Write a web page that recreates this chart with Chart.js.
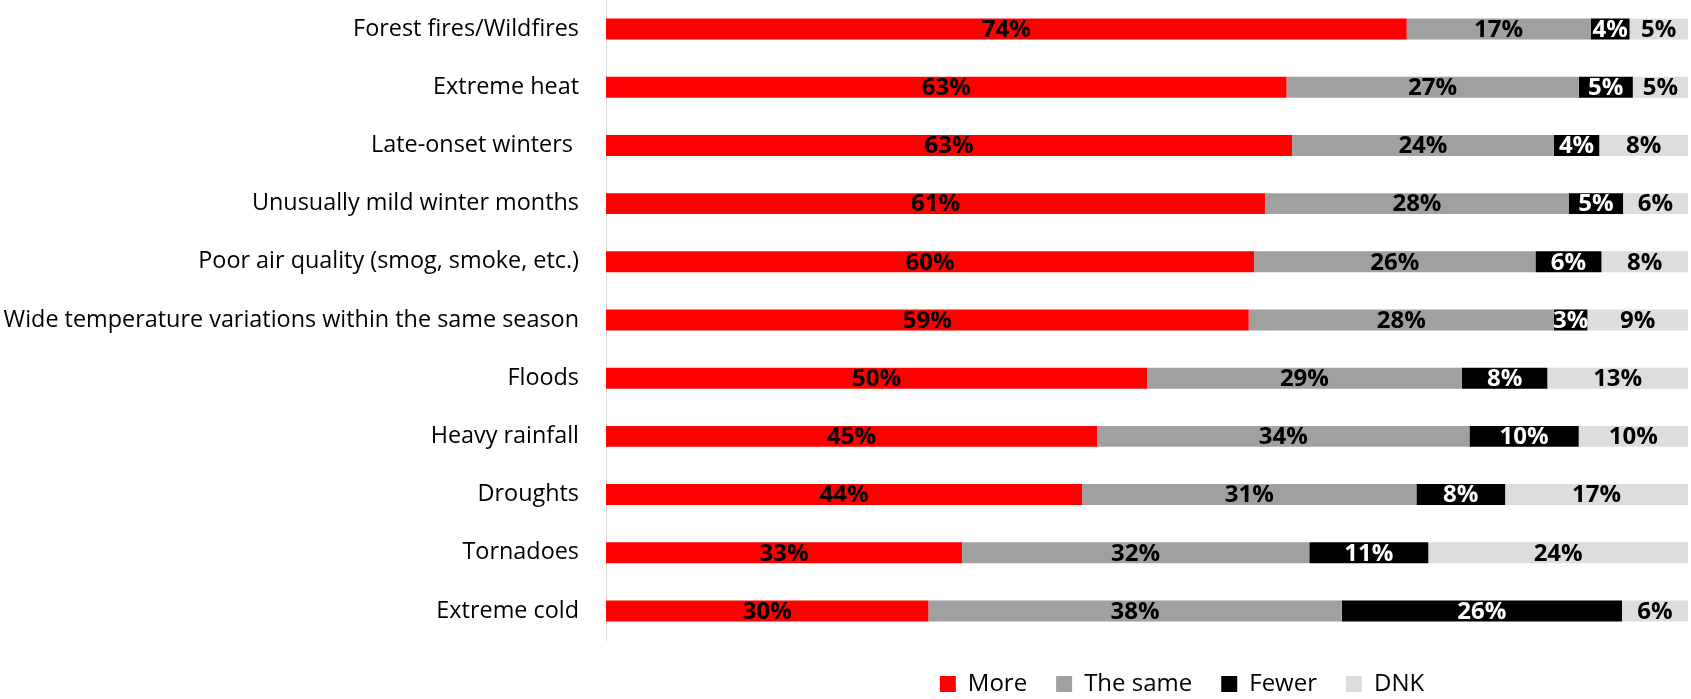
<!DOCTYPE html>
<html>
<head>
<meta charset="utf-8">
<script src="https://cdn.jsdelivr.net/npm/chart.js"></script>
<style>
  html, body { margin: 0; padding: 0; background: #fff; }
  #wrap { width: 1691px; height: 699px; }
</style>
</head>
<body>
<div id="wrap"><canvas id="chart"></canvas></div>
<script>
// categorias e valores
const categories = [
    'Forest fires/Wildfires',
    'Extreme heat',
    'Late-onset winters ',
    'Unusually mild winter months',
    'Poor air quality (smog, smoke, etc.)',
    'Wide temperature variations within the same season',
    'Floods',
    'Heavy rainfall',
    'Droughts',
    'Tornadoes',
    'Extreme cold'
];
const moreValues   = [74.0, 62.9, 63.4, 60.9, 59.9, 59.4, 50.0, 45.4, 44.0, 32.9, 29.8];
const sameValues   = [17.0, 27.0, 24.2, 28.1, 26.0, 28.2, 29.1, 34.4, 30.9, 32.1, 38.2];
const fewerValues  = [3.6, 5.0, 4.2, 5.0, 6.1, 3.1, 7.9, 10.1, 8.2, 11.0, 25.9];
const dnkValues    = [5.4, 5.1, 8.2, 6.0, 8.0, 9.3, 13.0, 10.1, 16.9, 24.0, 6.1];

const seriesNames  = ['More', 'The same', 'Fewer', 'DNK'];
const seriesColors = ['#ff0000', '#a0a0a0', '#000000', '#dddddd'];
const labelColors  = ['#000000', '#000000', '#ffffff', '#000000'];

const FONT = "'Open Sans', 'Noto Sans', sans-serif";

// plugin simples para escrever os percentuais no meio de cada segmento
const segmentLabels = {
    id: 'segmentLabels',
    afterDatasetsDraw(chart) {
        const ctx = chart.ctx;
        ctx.save();
        ctx.font = `bold 24px ${FONT}`;
        ctx.textAlign = 'center';
        ctx.textBaseline = 'middle';
        chart.data.datasets.forEach((ds, di) => {
            const meta = chart.getDatasetMeta(di);
            meta.data.forEach((bar, i) => {
                const v = ds.data[i];
                const cx = (bar.x + bar.base) / 2;
                ctx.fillStyle = labelColors[di];
                ctx.fillText(`${Math.round(v)}%`, cx, bar.y + 1);
            });
        });
        ctx.restore();
    }
};

// altura fixa da legenda e leve deslocamento (como no original)
const legendTweak = {
    id: 'legendTweak',
    beforeInit(chart) {
        const origFit = chart.legend.fit;
        chart.legend.fit = function () {
            origFit.call(this);
            this.height = 59;
        };
    },
    afterLayout(chart) {
        chart.legend.left += 70;
        chart.legend.top += 3;
        chart.legend.bottom += 3;
    }
};

const valueArrays = [moreValues, sameValues, fewerValues, dnkValues];

new Chart(document.getElementById('chart').getContext('2d'), {
    type: 'bar',
    data: {
        labels: categories,
        datasets: seriesNames.map((name, k) => ({
            label: name,
            data: valueArrays[k],
            backgroundColor: seriesColors[k],
            borderWidth: 0,
            categoryPercentage: 1,
            barPercentage: 0.36
        }))
    },
    options: {
        indexAxis: 'y',
        responsive: true,
        maintainAspectRatio: false,
        animation: false,
        layout: { padding: { top: 0, right: 3, bottom: 0, left: 0 } },
        scales: {
            x: {
                stacked: true,
                min: 0,
                max: 100,
                display: false
            },
            y: {
                stacked: true,
                grid: { display: false, tickLength: 8 },
                border: { display: true, color: '#d9d9d9', width: 1 },
                ticks: {
                    color: '#000',
                    padding: 19,
                    font: { family: FONT, size: 23.4 }
                },
                afterFit(scale) {
                    scale.paddingTop = 0;
                    scale.paddingBottom = 0;
                    scale.width = 606;
                }
            }
        },
        plugins: {
            legend: {
                position: 'bottom',
                fullSize: false,
                labels: {
                    color: '#000',
                    boxWidth: 16,
                    boxHeight: 16,
                    padding: 29,
                    font: { family: FONT, size: 24 }
                }
            },
            tooltip: { enabled: false }
        }
    },
    plugins: [segmentLabels, legendTweak]
});
</script>
</body>
</html>
